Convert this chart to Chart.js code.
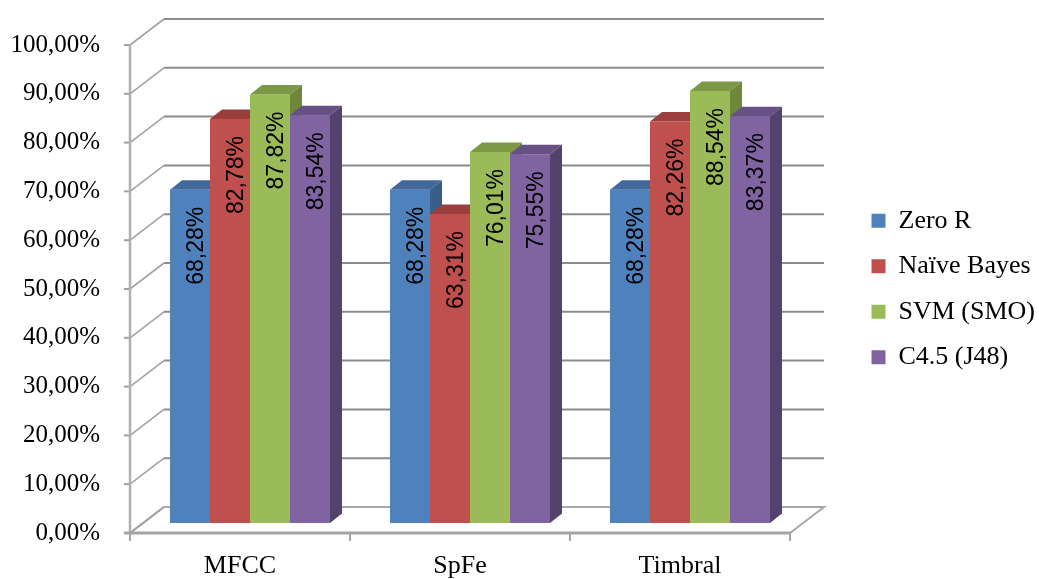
<!DOCTYPE html>
<html>
<head>
<meta charset="utf-8">
<script src="https://cdn.jsdelivr.net/npm/chart.js@4.4.1/dist/chart.umd.min.js"></script>
<style>
  html, body { margin: 0; padding: 0; background: #ffffff; }
  canvas { display: block; }
</style>
</head>
<body>
<canvas id="chart" width="1039" height="579"></canvas>
<script>
// ---- data ----
const categories = ['MFCC', 'SpFe', 'Timbral'];
const seriesNames = ['Zero R', 'Naïve Bayes', 'SVM (SMO)', 'C4.5 (J48)'];
const zeroR      = [68.28, 68.28, 68.28];
const naiveBayes = [82.78, 63.31, 82.26];
const svmSmo     = [87.82, 76.01, 88.54];
const c45        = [83.54, 75.55, 83.37];
const yTickValues = [0, 10, 20, 30, 40, 50, 60, 70, 80, 90, 100];

// ---- styling ----
const frontColors = ['#4F81BD', '#C0504D', '#9BBB59', '#8064A2'];
const topColors   = ['#41699B', '#9A3F3C', '#7D9845', '#675085'];
const sideColors  = ['#385E8C', '#8E3734', '#6E873B', '#54416D'];

const WALL_DX = 34, WALL_DY = 26;     // depth of the floor / side wall
const BAR_SHIFT_X = 10, BAR_SHIFT_Y = 10; // bars stand part-way into the floor
const BAR_DX = 12, BAR_DY = 9.5;      // depth of each column

const fmtPct = v => v.toFixed(2).replace('.', ',') + '%';

// Draws the walls, the floor and the 3D column faces around Chart.js bars
const columns3d = {
  id: 'columns3d',
  beforeDatasetsDraw(chart) {
    const { ctx, scales: { x, y } } = chart;
    const left = x.left, right = x.right;
    const y0 = y.getPixelForValue(0);
    ctx.save();
    ctx.lineCap = 'butt';

    // floor plate
    ctx.beginPath();
    ctx.moveTo(left, y0);
    ctx.lineTo(left + WALL_DX, y0 - WALL_DY);
    ctx.lineTo(right + WALL_DX, y0 - WALL_DY);
    ctx.lineTo(right, y0);
    ctx.closePath();
    ctx.fillStyle = '#ffffff';
    ctx.fill();
    ctx.strokeStyle = '#a8a8a8';
    ctx.lineWidth = 2;
    ctx.stroke();

    // back wall gridlines and side wall diagonals
    y.ticks.forEach(t => {
      const py = y.getPixelForValue(t.value);
      ctx.strokeStyle = '#a2a2a2';
      ctx.lineWidth = 1.6;
      ctx.beginPath();
      ctx.moveTo(left, py);
      ctx.lineTo(left + WALL_DX, py - WALL_DY);
      ctx.stroke();
      ctx.strokeStyle = t.value === 0 ? '#a8a8a8' : '#8c8c8c';
      ctx.lineWidth = 2;
      ctx.beginPath();
      ctx.moveTo(left + WALL_DX, py - WALL_DY);
      ctx.lineTo(right + WALL_DX, py - WALL_DY);
      ctx.stroke();
      // tick mark on the front value axis
      ctx.strokeStyle = '#a0a0a0';
      ctx.lineWidth = 2;
      ctx.beginPath();
      ctx.moveTo(left - 6, py);
      ctx.lineTo(left, py);
      ctx.stroke();
    });

    // front value axis
    ctx.strokeStyle = '#b0b0b0';
    ctx.lineWidth = 2.5;
    ctx.beginPath();
    ctx.moveTo(left, y.getPixelForValue(100));
    ctx.lineTo(left, y0);
    ctx.stroke();

    // front category axis with tick marks between categories
    ctx.strokeStyle = '#a4a4a4';
    ctx.lineWidth = 3;
    ctx.beginPath();
    ctx.moveTo(left - 6, y0);
    ctx.lineTo(right, y0);
    ctx.stroke();
    const catW = (right - left) / categories.length;
    ctx.lineWidth = 2;
    for (let i = 0; i <= categories.length; i++) {
      const px = left + i * catW;
      ctx.beginPath();
      ctx.moveTo(px, y0);
      ctx.lineTo(px, y0 + 8);
      ctx.stroke();
    }
    ctx.restore();
  },
  // columns are drawn below, left to right, so that each face overlaps correctly
  beforeDatasetDraw() { return false; },
  afterDatasetsDraw(chart) {
    const { ctx } = chart;
    ctx.save();
    ctx.translate(BAR_SHIFT_X, -BAR_SHIFT_Y);
    chart.data.datasets.forEach((ds, di) => {
      const meta = chart.getDatasetMeta(di);
      if (meta.hidden) return;
      meta.data.forEach(bar => {
        bar.draw(ctx, chart.chartArea);
        const { x, y, base, width } = bar.getProps(['x', 'y', 'base', 'width'], true);
        const L = x - width / 2, R = x + width / 2;
        // top face
        ctx.fillStyle = topColors[di];
        ctx.beginPath();
        ctx.moveTo(L, y);
        ctx.lineTo(R, y);
        ctx.lineTo(R + BAR_DX, y - BAR_DY);
        ctx.lineTo(L + BAR_DX, y - BAR_DY);
        ctx.closePath();
        ctx.fill();
        // right side face
        ctx.fillStyle = sideColors[di];
        ctx.beginPath();
        ctx.moveTo(R, y);
        ctx.lineTo(R + BAR_DX, y - BAR_DY);
        ctx.lineTo(R + BAR_DX, base - BAR_DY);
        ctx.lineTo(R, base);
        ctx.closePath();
        ctx.fill();
      });
    });

    // value labels, written upwards inside each column
    ctx.fillStyle = '#000000';
    ctx.font = '23px "Liberation Sans", Arial, sans-serif';
    ctx.textAlign = 'right';
    ctx.textBaseline = 'alphabetic';
    chart.data.datasets.forEach((ds, di) => {
      const meta = chart.getDatasetMeta(di);
      meta.data.forEach((bar, i) => {
        const { x, y } = bar.getProps(['x', 'y'], true);
        ctx.save();
        ctx.translate(x, y + 17);
        ctx.rotate(-Math.PI / 2);
        ctx.fillText(fmtPct(ds.data[i]), 0, 13);
        ctx.restore();
      });
    });
    ctx.restore();
  }
};

const seriesValues = [zeroR, naiveBayes, svmSmo, c45];

new Chart(document.getElementById('chart'), {
  type: 'bar',
  data: {
    labels: categories,
    datasets: seriesNames.map((name, i) => ({
      label: name,
      data: seriesValues[i],
      backgroundColor: frontColors[i],
      borderWidth: 0,
      categoryPercentage: 160 / 220,
      barPercentage: 1.0
    }))
  },
  options: {
    responsive: false,
    animation: false,
    events: [],
    layout: { padding: { top: 39, left: 0, right: 0, bottom: 0 } },
    scales: {
      x: {
        grid: { display: false, drawTicks: false },
        border: { display: false },
        ticks: {
          color: '#000000',
          padding: 18,
          font: { family: '"Liberation Serif", "Times New Roman", serif', size: 26 }
        },
        afterFit(s) { s.height = 46; }
      },
      y: {
        min: 0,
        max: 100,
        grid: { display: false, drawTicks: false },
        border: { display: false },
        afterBuildTicks(s) { s.ticks = yTickValues.map(v => ({ value: v })); },
        ticks: {
          color: '#000000',
          padding: 30,
          font: { family: '"Liberation Serif", "Times New Roman", serif', size: 25 },
          callback: v => fmtPct(v)
        },
        afterFit(s) { s.width = 130; }
      },
      // empty spacer between the plot and the legend
      spacer: {
        type: 'linear',
        position: 'right',
        display: true,
        grid: { display: false, drawTicks: false },
        border: { display: false },
        ticks: { display: false },
        afterFit(s) { s.width = 62; }
      }
    },
    plugins: {
      legend: {
        position: 'right',
        align: 'center',
        fullSize: false,
        maxWidth: 187,
        labels: {
          boxWidth: 14,
          boxHeight: 14,
          padding: 19.5,
          color: '#000000',
          font: { family: '"Liberation Serif", "Times New Roman", serif', size: 26 }
        }
      },
      tooltip: { enabled: false }
    }
  },
  plugins: [columns3d]
});
</script>
</body>
</html>
